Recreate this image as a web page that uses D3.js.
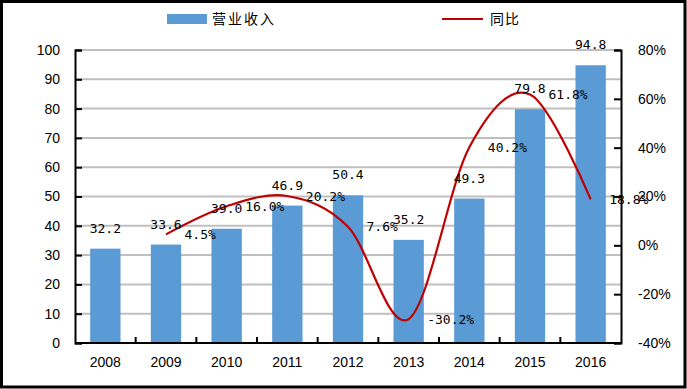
<!DOCTYPE html>
<html>
<head>
<meta charset="utf-8">
<script src="https://cdn.jsdelivr.net/npm/d3@7"></script>
<style>
html,body{margin:0;padding:0;background:#fff;}
svg{display:block;}
</style>
</head>
<body>
<svg id="chart" width="687" height="389"></svg>
<script>
const years = ["2008","2009","2010","2011","2012","2013","2014","2015","2016"];
const revenue = [32.2, 33.6, 39.0, 46.9, 50.4, 35.2, 49.3, 79.8, 94.8];
const growth = [null, 4.5, 16.0, 20.2, 7.6, -30.2, 40.2, 61.8, 18.8];
const leftTicks = [0,10,20,30,40,50,60,70,80,90,100];
const rightTicks = [-40,-20,0,20,40,60,80];
const seriesNames = ["营业收入", "同比"];

const svg = d3.select("#chart");
const W = 687, H = 389;
const m = {left:75, right:66, top:50, bottom:46};
const x0 = m.left, x1 = W - m.right, y0 = H - m.bottom, y1 = m.top;

const x = d3.scaleBand().domain(years).range([x0, x1]).paddingInner(0.5).paddingOuter(0.25);
const yL = d3.scaleLinear().domain([0,100]).range([y0, y1]);
const yR = d3.scaleLinear().domain([-40,80]).range([y0, y1]);

const tickFont = "'Liberation Sans', Arial, sans-serif";
const labelFont = "'DejaVu Sans Mono', monospace";
const cjkFont = "'Noto Sans CJK SC', sans-serif";

svg.append("rect").attr("x",0).attr("y",0).attr("width",W).attr("height",H).attr("fill","#fff");

// gridlines
svg.append("g").selectAll("line").data(leftTicks.filter(d=>d>0)).join("line")
  .attr("x1", x0).attr("x2", x1)
  .attr("y1", d=>yL(d)).attr("y2", d=>yL(d))
  .attr("stroke", "#bfbfbf").attr("stroke-width", 2);

// bars
svg.append("g").selectAll("rect").data(years).join("rect")
  .attr("x", d=>x(d)).attr("width", x.bandwidth())
  .attr("y", (d,i)=>yL(revenue[i])).attr("height", (d,i)=>yL(0)-yL(revenue[i]))
  .attr("fill", "#5b9bd5");

// left axis
const axL = d3.axisLeft(yL).tickValues(leftTicks).tickSize(-7).tickPadding(15).tickFormat(d3.format("d"));
const gL = svg.append("g").attr("transform",`translate(${x0},0)`).call(axL);
gL.select(".domain").attr("stroke","#000").attr("stroke-width",2);
gL.selectAll(".tick line").attr("stroke","#000").attr("stroke-width",2);
gL.selectAll("text").attr("font-family",tickFont).attr("font-size",14).attr("fill","#000");

// right axis
const axR = d3.axisRight(yR).tickValues(rightTicks).tickSize(-7).tickPadding(17).tickFormat(d=>d+"%");
const gR = svg.append("g").attr("transform",`translate(${x1},0)`).call(axR);
gR.select(".domain").attr("stroke","#000").attr("stroke-width",2);
gR.selectAll(".tick line").attr("stroke","#000").attr("stroke-width",2);
gR.selectAll("text").attr("font-family",tickFont).attr("font-size",14).attr("fill","#000");

// bottom axis
const axB = d3.axisBottom(x).tickSize(0).tickPadding(14);
const gB = svg.append("g").attr("transform",`translate(0,${y0})`).call(axB);
gB.select(".domain").remove();
gB.selectAll("text").attr("font-family",tickFont).attr("font-size",14).attr("fill","#000");
svg.append("line").attr("x1",x0).attr("x2",x1).attr("y1",y0).attr("y2",y0).attr("stroke","#000").attr("stroke-width",2);
const step = x.step();
svg.append("g").selectAll("line").data(years.slice(1)).join("line")
  .attr("x1", d=>x(d)-(step-x.bandwidth())/2).attr("x2", d=>x(d)-(step-x.bandwidth())/2)
  .attr("y1", y0).attr("y2", y0-6).attr("stroke","#000").attr("stroke-width",2);

// line
const pts = years.map((d,i)=>({x:x(d)+x.bandwidth()/2, v:growth[i]})).filter(p=>p.v!==null);
const line = d3.line().x(p=>p.x).y(p=>yR(p.v)).curve(d3.curveCatmullRom.alpha(0));
svg.append("path").attr("d", line(pts)).attr("fill","none").attr("stroke","#c00000").attr("stroke-width",2.2);

// bar labels
svg.append("g").selectAll("text").data(years).join("text")
  .attr("x", d=>x(d)+x.bandwidth()/2).attr("y", (d,i)=>yL(revenue[i])-16)
  .attr("text-anchor","middle").attr("font-family",labelFont).attr("font-size",13).attr("fill","#000")
  .text((d,i)=>revenue[i].toFixed(1));

// growth labels
svg.append("g").selectAll("text").data(pts).join("text")
  .attr("x", p=>p.x+18.5).attr("y", p=>yR(p.v)).attr("dy","0.35em")
  .attr("font-family",labelFont).attr("font-size",13).attr("fill","#000")
  .text(p=>p.v.toFixed(1)+"%");

// legend
svg.append("rect").attr("x",167).attr("y",14).attr("width",40).attr("height",10).attr("fill","#5b9bd5");
svg.append("text").attr("x",212).attr("y",19).attr("dy","0.35em").attr("font-family",cjkFont).attr("font-size",14).attr("letter-spacing",2).attr("fill","#000").text(seriesNames[0]);
svg.append("line").attr("x1",442).attr("x2",483).attr("y1",19).attr("y2",19).attr("stroke","#c00000").attr("stroke-width",2.2);
svg.append("text").attr("x",490).attr("y",19).attr("dy","0.35em").attr("font-family",cjkFont).attr("font-size",14).attr("letter-spacing",1).attr("fill","#000").text(seriesNames[1]);

// border
svg.append("rect").attr("x",1.5).attr("y",1.5).attr("width",683.5).attr("height",385.5).attr("fill","none").attr("stroke","#000").attr("stroke-width",3);
</script>
</body>
</html>
